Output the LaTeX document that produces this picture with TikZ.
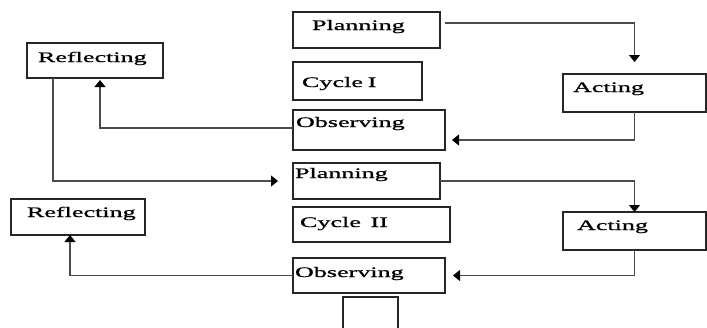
\documentclass[tikz,border=0pt]{standalone}
\usepackage{fontspec}
\setmainfont{Liberation Serif}[FakeStretch=1.8,FakeBold=1.0]
\usetikzlibrary{arrows.meta}
\newcommand\mybox[8]{%
  \pgfmathsetmacro\bxw{#4-#2}%
  \pgfmathsetmacro\bxp{#6-#2}%
  \pgfmathsetmacro\bxth{#7-#3}%
  \pgfmathsetmacro\bxtd{#5-#7}%
  \node[box, text width=\bxw pt, text height=\bxth pt, text depth=\bxtd pt] (#1) at (#2,#3) {\hspace*{\bxp pt}#8};}
\tikzset{
  box/.style={draw=black!85, line width=1.2pt, anchor=north west, inner sep=0pt, outer sep=0pt, align=left,
    font=\fontsize{14.5}{17}\selectfont},
  conn/.style={draw=black!70, line width=1.1pt, -{Triangle[width=11pt,length=7pt,color=black]}}
}
\begin{document}
\begin{tikzpicture}[x=1pt,y=-1pt]
\useasboundingbox[fill=white] (0,0) rectangle (707,327);
\mybox{P1}{293}{12}{440}{48}{312}{30}{Planning}
\mybox{C1}{293}{62}{422}{100}{302}{87}{Cycle I}
\mybox{O1}{293}{110}{445}{150}{296}{127}{Observing}
\mybox{R1}{27}{43}{163}{78}{38}{62}{Reflecting}
\mybox{A1}{563}{74}{706}{112}{573}{92}{Acting}
\mybox{P2}{293}{163}{440}{199}{295}{178}{Planning}
\mybox{C2}{293}{207}{450}{242}{300}{227}{Cycle\ \ II}
\mybox{O2}{293}{258}{445}{293}{295}{277}{Observing}
\mybox{R2}{11}{199}{145}{235}{27}{217}{Reflecting}
\mybox{A2}{563}{212}{706}{250}{577}{230}{Acting}
\node[draw=black!85, line width=1.2pt, anchor=north west, minimum width=55pt, minimum height=45pt, inner sep=0pt, outer sep=0pt] (S) at (343,297) {};
% connectors
\draw[conn] ([shift={(5,11)}]P1.north east) -| ([yshift=12pt]A1.north);
\draw[conn] (A1.south) |- ([shift={(7,10)}]O1.east);
\draw[conn] ([yshift=2pt]O1.west) -| ([shift={(5,2)}]R1.south);
\draw[conn] ([xshift=26pt]R1.south west) |- ([xshift=-15pt]P2.west);
\draw[conn] (P2.east) -| (A2.north);
\draw[conn] (A2.south) |- ([xshift=8pt]O2.east);
\draw[conn] (O2.west) -| ([xshift=-8pt]R2.south);
\end{tikzpicture}
\end{document}
